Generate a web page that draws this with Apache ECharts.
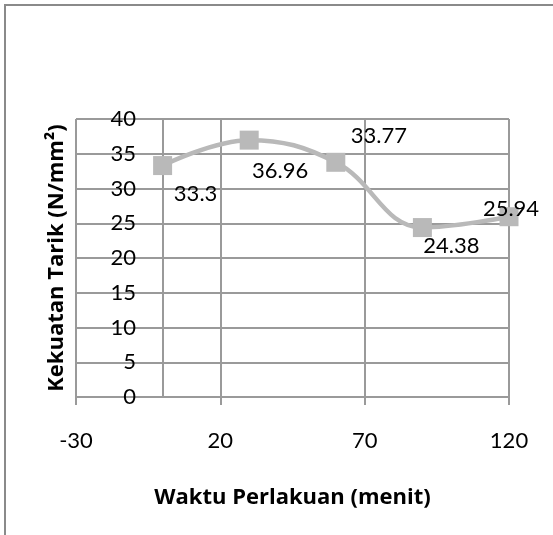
<!DOCTYPE html>
<html>
<head>
<meta charset="utf-8">
<script src="https://cdn.jsdelivr.net/npm/echarts@6/dist/echarts.min.js"></script>
<style>
  html, body { margin: 0; padding: 0; background: #fff; }
  #Map { width: 553px; height: 535px; }
</style>
</head>
<body>
<div id="Map"></div>
<script>
// data
var waktu = [0, 30, 60, 90, 120];
var kekuatan = [33.3, 36.96, 33.77, 24.38, 25.94];

// label nudges, like the hand-moved labels in the original
var labelShift = [[33, 28], [31, 31], [43, -26], [29, 18], [2, -8]];

var points = [];
for (var i = 0; i < waktu.length; i++) {
  points.push({
    value: [waktu[i], kekuatan[i]],
    label: { offset: labelShift[i] }
  });
}

var gridColor = '#9a9a9a';
var numFont = 'Lato';
var titleFont = 'Open Sans';

var myChart = echarts.init(document.getElementById('Map'));
var option = {
    animation: false,
    graphic: [
        {
            type: 'rect',
            shape: { x: 5, y: 5, width: 700, height: 700 },
            style: { fill: 'none', stroke: '#8a8a8a', lineWidth: 2 }
        }
    ],
    grid: {
        left: 76,
        right: 44,
        top: 119,
        bottom: 138,
        outerBoundsMode: 'none',
        containLabel: false
    },
    xAxis: {
        type: 'value',
        min: -30,
        max: 120,
        interval: 50,
        name: 'Waktu Perlakuan (menit)',
        nameLocation: 'middle',
        nameGap: 90,
        nameTextStyle: { fontFamily: titleFont, fontWeight: 'bold', fontSize: 22, color: '#000' },
        axisLine: { onZero: true, lineStyle: { color: gridColor, width: 2 } },
        axisTick: { show: true, length: 8, lineStyle: { color: gridColor, width: 2 } },
        axisLabel: { margin: 33, fontFamily: numFont, fontSize: 22, color: '#000' },
        splitLine: { show: true, lineStyle: { color: gridColor, width: 2 } }
    },
    yAxis: {
        type: 'value',
        min: 0,
        max: 40,
        interval: 5,
        name: 'Kekuatan Tarik (N/mm²)',
        nameLocation: 'middle',
        nameGap: 8,
        nameTextStyle: { fontFamily: titleFont, fontWeight: 'bold', fontSize: 22, color: '#000' },
        axisLine: { show: true, onZero: true, lineStyle: { color: gridColor, width: 2 } },
        axisTick: { show: false },
        axisLabel: { margin: -60, fontFamily: numFont, fontSize: 22, color: '#000' },
        splitLine: { show: true, lineStyle: { color: gridColor, width: 2 } }
    },
    series: [
        {
            type: 'line',
            data: points,
            smooth: 0.4,
            symbol: 'rect',
            symbolSize: 19,
            itemStyle: { color: '#b9b9b9' },
            lineStyle: { color: '#b9b9b9', width: 4.5 },
            label: {
                show: true,
                position: 'inside',
                fontFamily: numFont,
                fontSize: 22,
                color: '#000',
                formatter: function (p) { return String(p.value[1]); }
            }
        }
    ]
};
myChart.setOption(option);
</script>
</body>
</html>
